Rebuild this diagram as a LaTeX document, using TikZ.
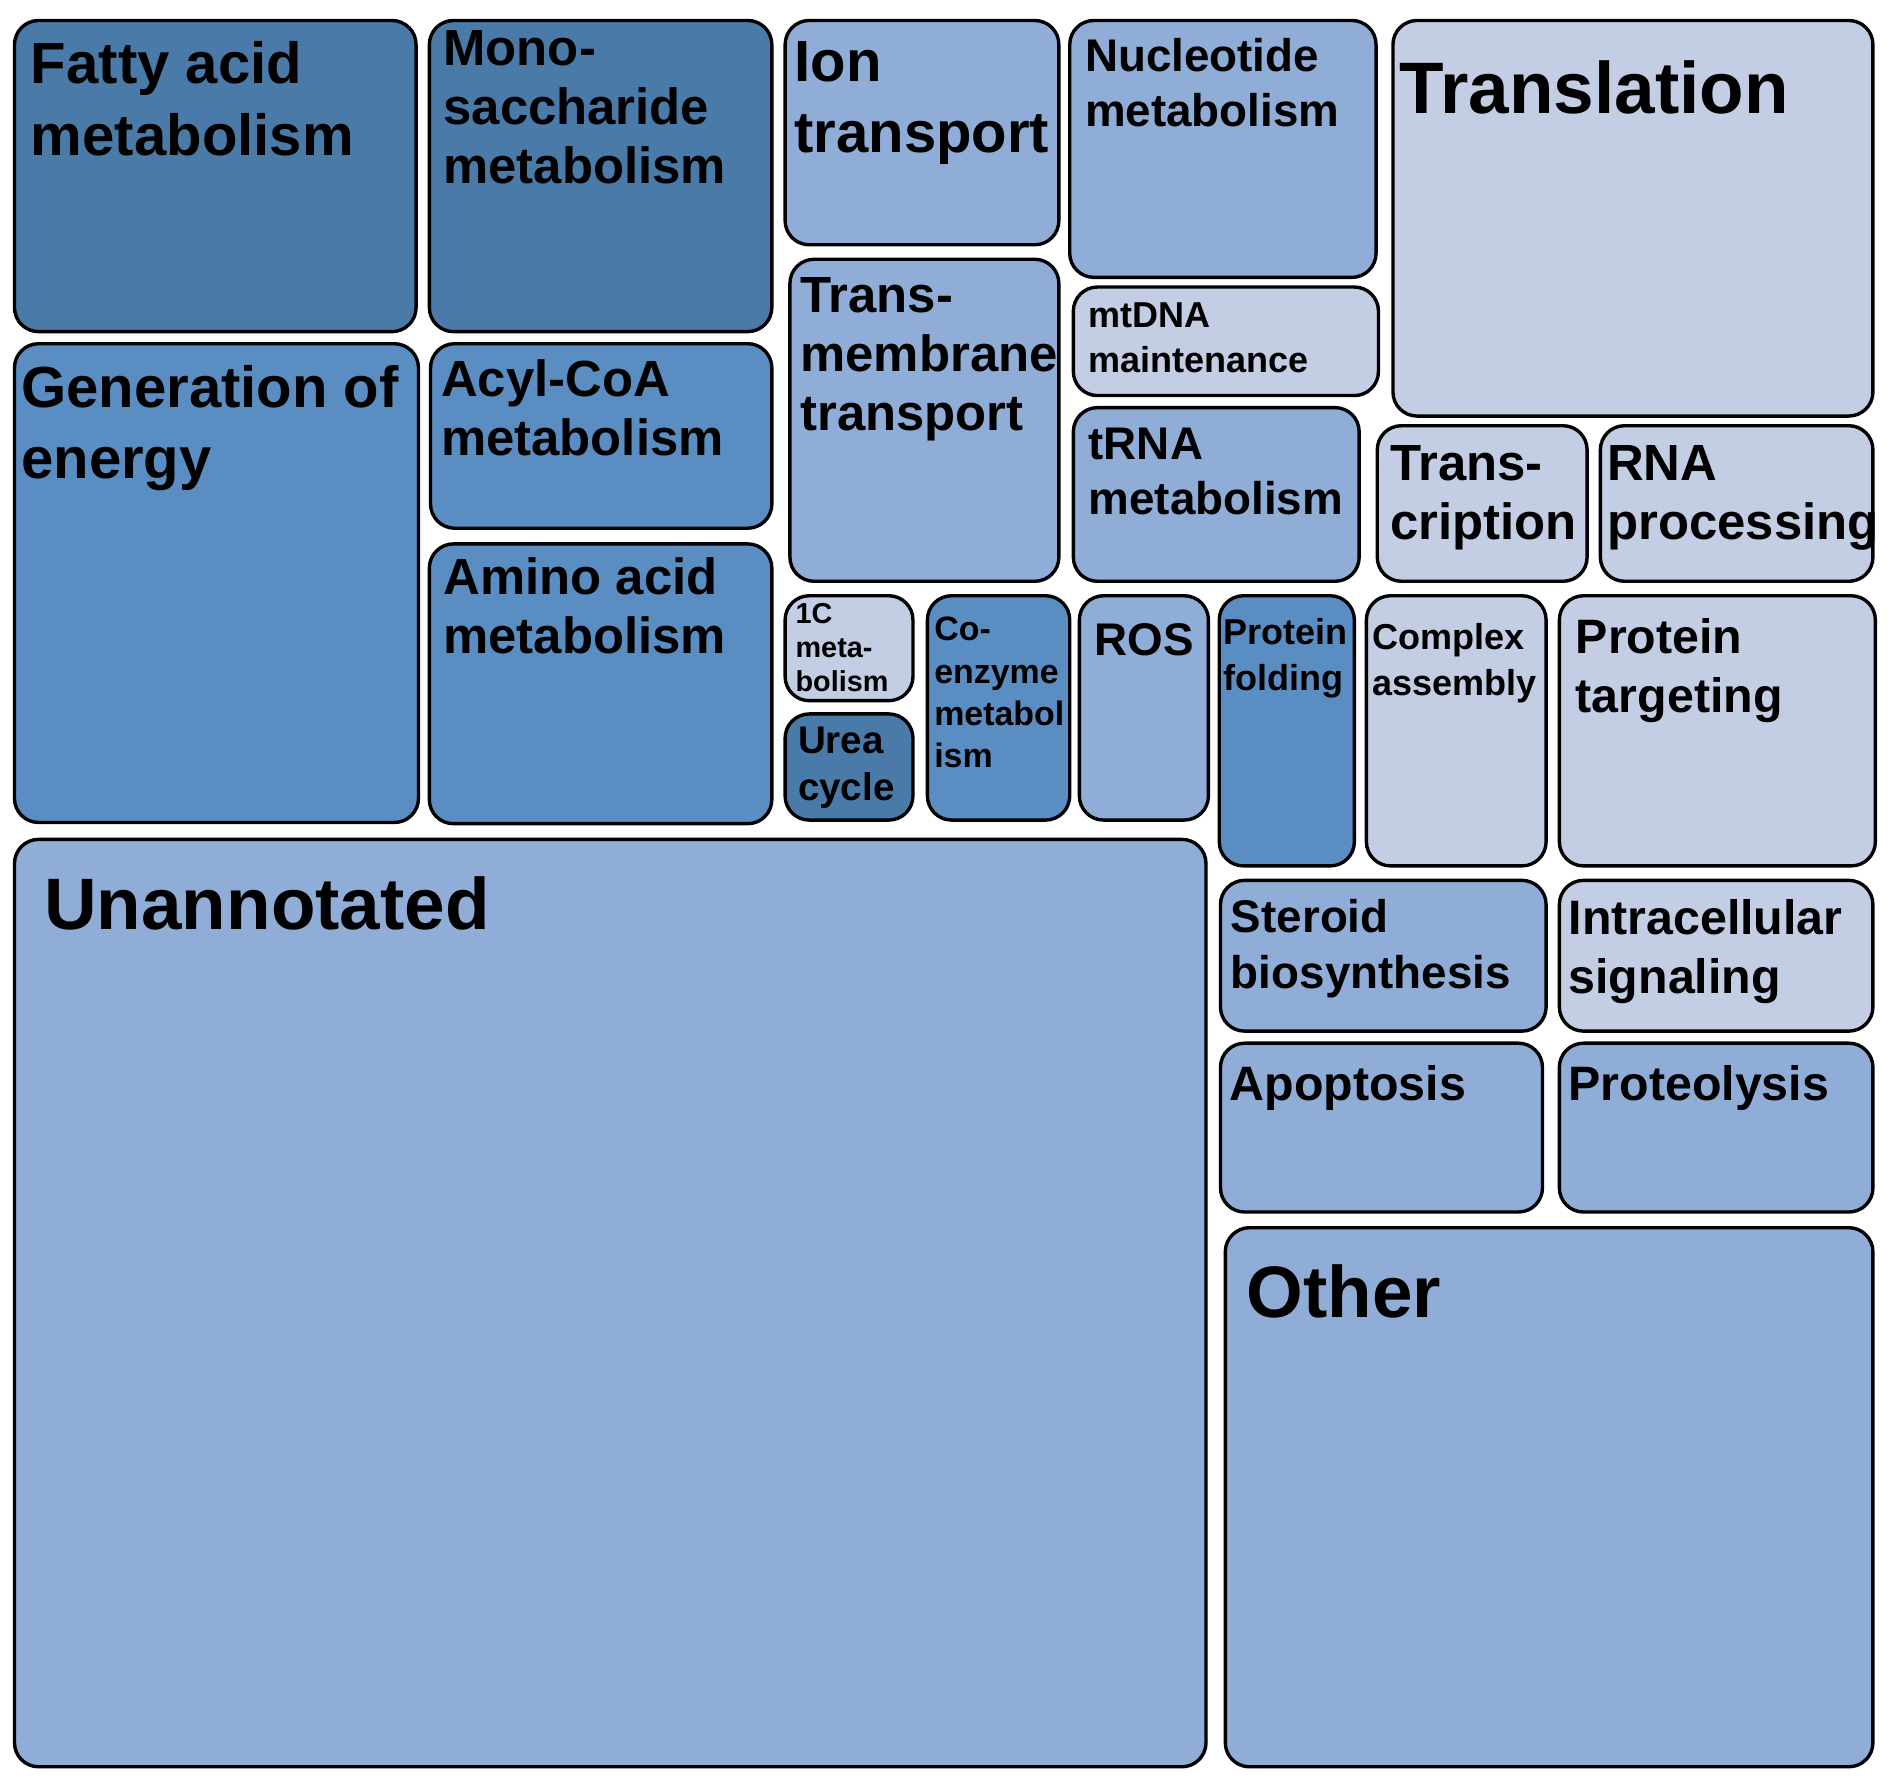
\documentclass[tikz,border=0pt]{standalone}
\usepackage{fontspec}
\setmainfont{Liberation Sans}
\definecolor{cD}{HTML}{4A7AA7}
\definecolor{cM}{HTML}{5A8EC2}
\definecolor{cL}{HTML}{8FADD6}
\definecolor{cX}{HTML}{C3CDE3}
\newcommand\fs[2]{\fontsize{#1}{#2}\selectfont\bfseries}
\newcommand\bx[6]{\pgfmathsetmacro\bw{(#4-#2)/100}\pgfmathsetmacro\bh{(#5-#3)/100}%
\node[box,fill=#6,minimum width=\bw cm,minimum height=\bh cm,anchor=north west] (#1) at ({#2/100},{-#3/100}) {};}
\newcommand\tx[5]{\node[lbl,font=#4] (#1) at ({#2/100},{-#3/100}) {#5};}
\begin{document}
\begin{tikzpicture}[
 box/.style={draw=black,line width=0.8pt,rounded corners=0.2cm,inner sep=0,outer sep=0},
 lbl/.style={anchor=north west,align=left,inner sep=0,text=black}]
\useasboundingbox (0,0) rectangle (15.68,-14.79);
\bx{b1}{12}{17}{345}{275}{cD}
\bx{b2}{356}{17}{640}{275}{cD}
\bx{b3}{651}{17}{878}{203}{cL}
\bx{b4}{887}{17}{1141}{230}{cL}
\bx{b5}{1155}{17}{1553}{345}{cX}
\bx{b6}{12}{285}{347}{682}{cM}
\bx{b7}{357}{285}{640}{438}{cM}
\bx{b8}{356}{451}{640}{683}{cM}
\bx{b9}{655}{215}{878}{482}{cL}
\bx{b10}{890}{238}{1143}{328}{cX}
\bx{b11}{890}{338}{1127}{482}{cL}
\bx{b12}{1142}{353}{1316}{482}{cX}
\bx{b13}{1327}{353}{1553}{482}{cX}
\bx{b14}{651}{494}{757}{581}{cX}
\bx{b15}{651}{592}{757}{680}{cD}
\bx{b16}{769}{494}{887}{680}{cM}
\bx{b17}{895}{494}{1002}{680}{cL}
\bx{b18}{1011}{494}{1123}{718}{cM}
\bx{b19}{1133}{494}{1282}{718}{cX}
\bx{b20}{1293}{494}{1555}{718}{cX}
\bx{b21}{12}{696}{1000}{1465}{cL}
\bx{b22}{1012}{730}{1282}{855}{cL}
\bx{b23}{1293}{730}{1553}{855}{cX}
\bx{b24}{1012}{865}{1279}{1005}{cL}
\bx{b25}{1293}{865}{1553}{1005}{cL}
\bx{b26}{1016}{1018}{1553}{1465}{cL}
\tx{t1}{25}{34}{\fs{13.7pt}{16.8pt}}{Fatty acid\\metabolism}
\tx{t2}{367}{24.5}{\fs{12pt}{13.9pt}}{Mono-\\saccharide\\metabolism}
\tx{t3}{658}{34}{\fs{13.7pt}{16.8pt}}{Ion\\transport}
\tx{t4}{899}{31}{\fs{10.8pt}{13.1pt}}{Nucleotide\\metabolism}
\tx{t5}{1160}{50}{\fs{17.2pt}{20pt}}{Translation}
\tx{t6}{17}{302}{\fs{13.7pt}{16.8pt}}{Generation of\\energy}
\tx{t7}{365}{297.5}{\fs{12pt}{13.9pt}}{Acyl-CoA\\metabolism}
\tx{t8}{367}{461.5}{\fs{12pt}{13.9pt}}{Amino acid\\metabolism}
\tx{t9}{663}{229.5}{\fs{12pt}{13.9pt}}{Trans-\\membrane\\transport}
\tx{t10}{902}{250}{\fs{8.5pt}{10.8pt}}{mtDNA\\maintenance}
\tx{t11}{902}{354}{\fs{10.8pt}{13.1pt}}{tRNA\\metabolism}
\tx{t12}{1152}{368.5}{\fs{12pt}{13.9pt}}{Trans-\\cription}
\tx{t13}{1332}{368.5}{\fs{12pt}{13.9pt}}{RNA\\processing}
\tx{t14}{659}{500}{\fs{6.8pt}{8pt}}{1C\\meta-\\bolism}
\tx{t15}{661}{602}{\fs{9.1pt}{11.1pt}}{Urea\\cycle}
\tx{t16}{774}{511}{\fs{8pt}{10pt}}{Co-\\enzyme\\metabol\\ism}
\tx{t17}{907}{516}{\fs{10.8pt}{13.1pt}}{ROS}
\tx{t18}{1014}{512}{\fs{8.5pt}{10.8pt}}{Protein\\folding}
\tx{t19}{1137}{516}{\fs{8.5pt}{10.8pt}}{Complex\\assembly}
\tx{t20}{1306}{512}{\fs{11.4pt}{13.9pt}}{Protein\\targeting}
\tx{t21}{36}{726}{\fs{17.2pt}{20pt}}{Unannotated}
\tx{t22}{1020}{745}{\fs{10.8pt}{13.1pt}}{Steroid\\biosynthesis}
\tx{t23}{1300}{745}{\fs{11.4pt}{13.9pt}}{Intracellular\\signaling}
\tx{t24}{1019}{883}{\fs{11.4pt}{13.9pt}}{Apoptosis}
\tx{t25}{1300}{883}{\fs{11.4pt}{13.9pt}}{Proteolysis}
\tx{t26}{1033}{1048}{\fs{17.2pt}{20pt}}{Other}
\end{tikzpicture}
\end{document}
